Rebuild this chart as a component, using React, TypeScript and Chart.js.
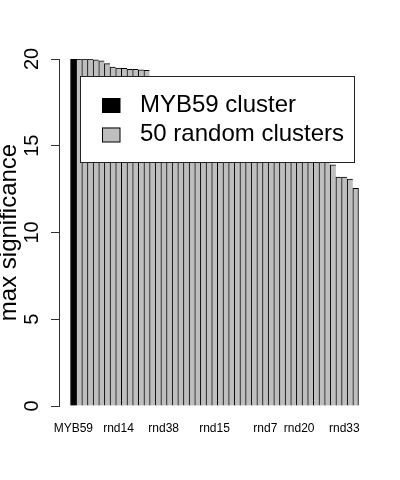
import { useEffect, useRef } from "react";
import { Chart, registerables } from "chart.js";

Chart.register(...registerables);

// ---- data ----
const targetName = "MYB59";
const targetValue = 20;

const randomNames = [
  "rnd41", "rnd3", "rnd27", "rnd9", "rnd46", "rnd12", "rnd30", "rnd14", "rnd5", "rnd22",
  "rnd49", "rnd1", "rnd36", "rnd18", "rnd44", "rnd38", "rnd10", "rnd25", "rnd2", "rnd47",
  "rnd31", "rnd6", "rnd40", "rnd19", "rnd15", "rnd28", "rnd50", "rnd11", "rnd35", "rnd4",
  "rnd23", "rnd43", "rnd16", "rnd7", "rnd29", "rnd8", "rnd39", "rnd26", "rnd13", "rnd20",
  "rnd45", "rnd34", "rnd24", "rnd48", "rnd17", "rnd37", "rnd21", "rnd33", "rnd42", "rnd32",
];

const randomValues = [
  20, 20, 20, 19.95, 19.89, 19.73, 19.54, 19.47, 19.46, 19.41,
  19.4, 19.38, 19.35, 18.98, 18.9, 18.8, 18.7, 18.55, 18.4, 18.3,
  18.15, 18.0, 17.9, 17.75, 17.6, 17.45, 17.3, 17.15, 17.0, 16.85,
  16.7, 16.55, 16.4, 16.2, 16.05, 15.9, 15.75, 15.6, 15.4, 15.2,
  15.0, 14.8, 14.6, 14.4, 14.25, 13.9, 13.2, 13.2, 13.08, 12.55,
];

const categories = [targetName, ...randomNames];
const shownLabels = ["MYB59", "rnd14", "rnd38", "rnd15", "rnd7", "rnd20", "rnd33"];
const yTicks = [0, 5, 10, 15, 20];
const legendLabels = ["MYB59 cluster", "50 random clusters"];
const seriesColors = ["#000000", "#BEBEBE"];
const yTitle = "max significance";

const FONT = "'Liberation Sans', Arial, Helvetica, sans-serif";

const boxLegend = {
  id: "boxLegend",
  afterDatasetsDraw(chart: any) {
    const ctx = chart.ctx as CanvasRenderingContext2D;
    ctx.save();
    const x = 80.5, y = 76.5, w = 274, h = 86;
    ctx.fillStyle = "#ffffff";
    ctx.fillRect(x, y, w, h);
    ctx.strokeStyle = "#222";
    ctx.lineWidth = 1;
    ctx.strokeRect(x, y, w, h);
    chart.data.datasets.forEach((ds: any, i: number) => {
      const cy = 105 + i * 29.5;
      ctx.fillStyle = ds.backgroundColor;
      ctx.fillRect(102, cy - 7, 18, 14.5);
      ctx.strokeStyle = "#000";
      ctx.strokeRect(102.5, cy - 6.5, 17.5, 14);
      ctx.fillStyle = "#000";
      ctx.font = `24px ${FONT}`;
      ctx.textBaseline = "middle";
      ctx.textAlign = "left";
      ctx.fillText(ds.label, 140, cy);
    });
    ctx.restore();
  },
};

export default function App() {
  const ref = useRef<HTMLCanvasElement | null>(null);

  useEffect(() => {
    if (!ref.current) return;
    const n = categories.length;
    const chart = new Chart(ref.current, {
      type: "bar",
      data: {
        datasets: [
          {
            label: legendLabels[0],
            data: [{ x: categories.indexOf(targetName) + 0.5, y: targetValue }],
            backgroundColor: seriesColors[0],
            borderColor: "#000",
            borderWidth: { top: 1, left: 1, right: 0, bottom: 0 },
            borderSkipped: false,
            grouped: false,
            barPercentage: 1,
            categoryPercentage: 1,
          } as any,
          {
            label: legendLabels[1],
            data: randomValues.map((v, i) => ({ x: categories.indexOf(randomNames[i]) + 0.5, y: v })),
            backgroundColor: seriesColors[1],
            borderColor: "#000",
            borderWidth: (c: any) =>
              c.dataIndex === randomValues.length - 1
                ? { top: 1, left: 1, right: 1, bottom: 0 }
                : { top: 1, left: 1, right: 0, bottom: 0 },
            borderSkipped: false,
            grouped: false,
            barPercentage: 1,
            categoryPercentage: 1,
          } as any,
        ],
      },
      options: {
        animation: false,
        responsive: false,
        maintainAspectRatio: false,
        layout: { padding: { left: 0, top: 59, right: 30, bottom: 34 } },
        plugins: {
          legend: { display: false },
          tooltip: { enabled: false },
        },
        scales: {
          x: {
            type: "linear",
            position: "bottom",
            offset: false,
            min: -0.04 * n,
            max: n + 0.04 * n,
            grid: { display: false, drawTicks: false, offset: false },
            border: { display: false },
            afterBuildTicks: (axis: any) => {
              axis.ticks = shownLabels.map((name) => ({ value: categories.indexOf(name) + 0.5 }));
            },
            afterFit: (axis: any) => {
              axis.height = 40;
            },
            ticks: {
              autoSkip: false,
              maxRotation: 0,
              minRotation: 0,
              padding: 15,
              color: "#000",
              font: { family: FONT, size: 12 },
              callback: (value: any) => categories[Math.round(Number(value) - 0.5)] ?? "",
            },
          },
          y: {
            type: "linear",
            min: yTicks[0],
            max: yTicks[yTicks.length - 1],
            afterBuildTicks: (axis: any) => {
              axis.ticks = yTicks.map((v) => ({ value: v }));
            },
            afterFit: (axis: any) => {
              axis.width = 59;
            },
            grid: {
              drawOnChartArea: false,
              drawTicks: true,
              tickLength: 8,
              color: "#333",
              lineWidth: 1,
            },
            border: { display: true, color: "#333", width: 1 },
            ticks: {
              minRotation: 90,
              maxRotation: 90,
              crossAlign: "center",
              padding: 7,
              color: "#000",
              font: { family: FONT, size: 20 },
            },
            title: {
              display: true,
              text: yTitle,
              color: "#000",
              padding: 0,
              font: { family: FONT, size: 24, lineHeight: 0.75 },
            },
          },
        },
      } as any,
      plugins: [boxLegend],
    });
    return () => chart.destroy();
  }, []);

  return (
    <div style={{ position: "absolute", left: 0, top: 0, width: 400, height: 480, background: "#fff" }}>
      <canvas ref={ref} width={400} height={480} style={{ width: 400, height: 480, display: "block" }} />
    </div>
  );
}
